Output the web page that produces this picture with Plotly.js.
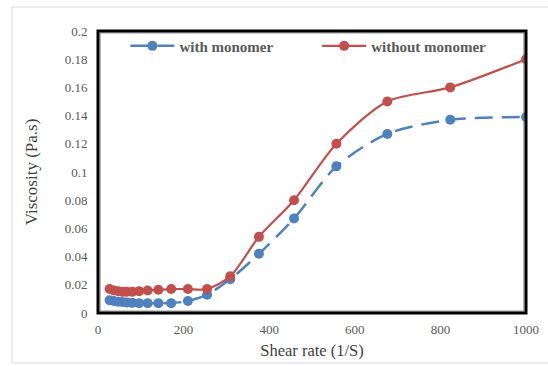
<!DOCTYPE html>
<html>
<head>
<meta charset="utf-8">
<script src="https://cdn.plot.ly/plotly-3.0.1.min.js"></script>
<style>
  html, body { margin: 0; padding: 0; background: #fff; }
  #chart { width: 548px; height: 366px; }
</style>
</head>
<body>
<div id="chart"></div>
<script>
// Shear rate (1/S) at each measurement
const shearRate = [27, 37, 47, 57, 67, 80, 96, 116, 141, 171, 210, 255, 309, 376, 458, 557, 676, 823, 1000];
// Viscosity (Pa.s) with monomer
const withMonomer = [0.009, 0.0085, 0.008, 0.0078, 0.0075, 0.0072, 0.007, 0.007, 0.007, 0.007, 0.0085, 0.013, 0.024, 0.042, 0.067, 0.104, 0.127, 0.137, 0.139];
// Viscosity (Pa.s) without monomer
const withoutMonomer = [0.017, 0.016, 0.0155, 0.015, 0.015, 0.015, 0.0155, 0.016, 0.0165, 0.017, 0.017, 0.017, 0.026, 0.054, 0.080, 0.120, 0.150, 0.160, 0.180];
const seriesNames = ['with monomer', 'without monomer'];
const yTicks = [0, 0.02, 0.04, 0.06, 0.08, 0.1, 0.12, 0.14, 0.16, 0.18, 0.2];
const xTicks = [0, 200, 400, 600, 800, 1000];

const serif = 'Liberation Serif, Times New Roman, serif';
const blue = '#4F81BD';
const red = '#C0504D';

const traces = [
  {
    x: shearRate, y: withMonomer, name: seriesNames[0], legend: 'legend',
    mode: 'lines+markers', type: 'scatter',
    line: { color: blue, width: 2.5, dash: '18px,9px', shape: 'spline', smoothing: 0.8 },
    marker: { color: blue, size: 10 }
  },
  {
    x: shearRate, y: withoutMonomer, name: seriesNames[1], legend: 'legend2',
    mode: 'lines+markers', type: 'scatter',
    line: { color: red, width: 2.2, shape: 'spline', smoothing: 0.8 },
    marker: { color: red, size: 10 }
  }
];

const legendFont = { family: serif, size: 15, color: '#595959', weight: 'bold' };
const tickFont = { family: serif, size: 13, color: '#595959' };

const layout = {
  width: 548, height: 366,
  margin: { l: 98, r: 22, t: 31, b: 53 },
  paper_bgcolor: '#fff', plot_bgcolor: '#fff',
  showlegend: true,
  legend: {
    x: 0.064, y: 1.005, xanchor: 'left', yanchor: 'top',
    bgcolor: 'rgba(0,0,0,0)', itemwidth: 44, font: legendFont
  },
  legend2: {
    x: 0.512, y: 1.005, xanchor: 'left', yanchor: 'top',
    bgcolor: 'rgba(0,0,0,0)', itemwidth: 44, font: legendFont
  },
  xaxis: {
    range: [0, 1000], tickvals: xTicks, ticktext: xTicks.map(String),
    showgrid: false, zeroline: false, showline: false,
    ticks: 'outside', ticklen: 4, tickcolor: 'rgba(0,0,0,0)',
    tickfont: tickFont,
    title: { text: 'Shear rate (1/S)', font: { family: serif, size: 16.5, color: '#404040' }, standoff: 8 }
  },
  yaxis: {
    range: [0, 0.2], tickvals: yTicks, ticktext: yTicks.map(String),
    showgrid: false, zeroline: false, showline: false,
    ticks: 'outside', ticklen: 7, tickcolor: 'rgba(0,0,0,0)',
    tickfont: tickFont,
    title: { text: 'Viscosity (Pa.s)', font: { family: serif, size: 17, color: '#404040' }, standoff: 22 }
  },
  shapes: [
    // light frame around the whole chart
    { type: 'rect', xref: 'paper', yref: 'paper', layer: 'below',
      x0: -86 / 428, x1: 1.2, y0: -50 / 282, y1: 1 + 24 / 282,
      line: { color: '#d9d9d9', width: 1 } },
    // inner grey rule of the plot frame
    { type: 'rect', xref: 'paper', yref: 'paper', layer: 'below',
      x0: 0.005, x1: 0.995, y0: 0.007, y1: 0.993,
      line: { color: '#8c8c8c', width: 1 } },
    // heavy black plot frame
    { type: 'rect', xref: 'paper', yref: 'paper', layer: 'above',
      x0: 0, x1: 1, y0: 0, y1: 1,
      line: { color: '#000', width: 3 } }
  ]
};

Plotly.newPlot('chart', traces, layout, { displayModeBar: false, staticPlot: true });
</script>
</body>
</html>
